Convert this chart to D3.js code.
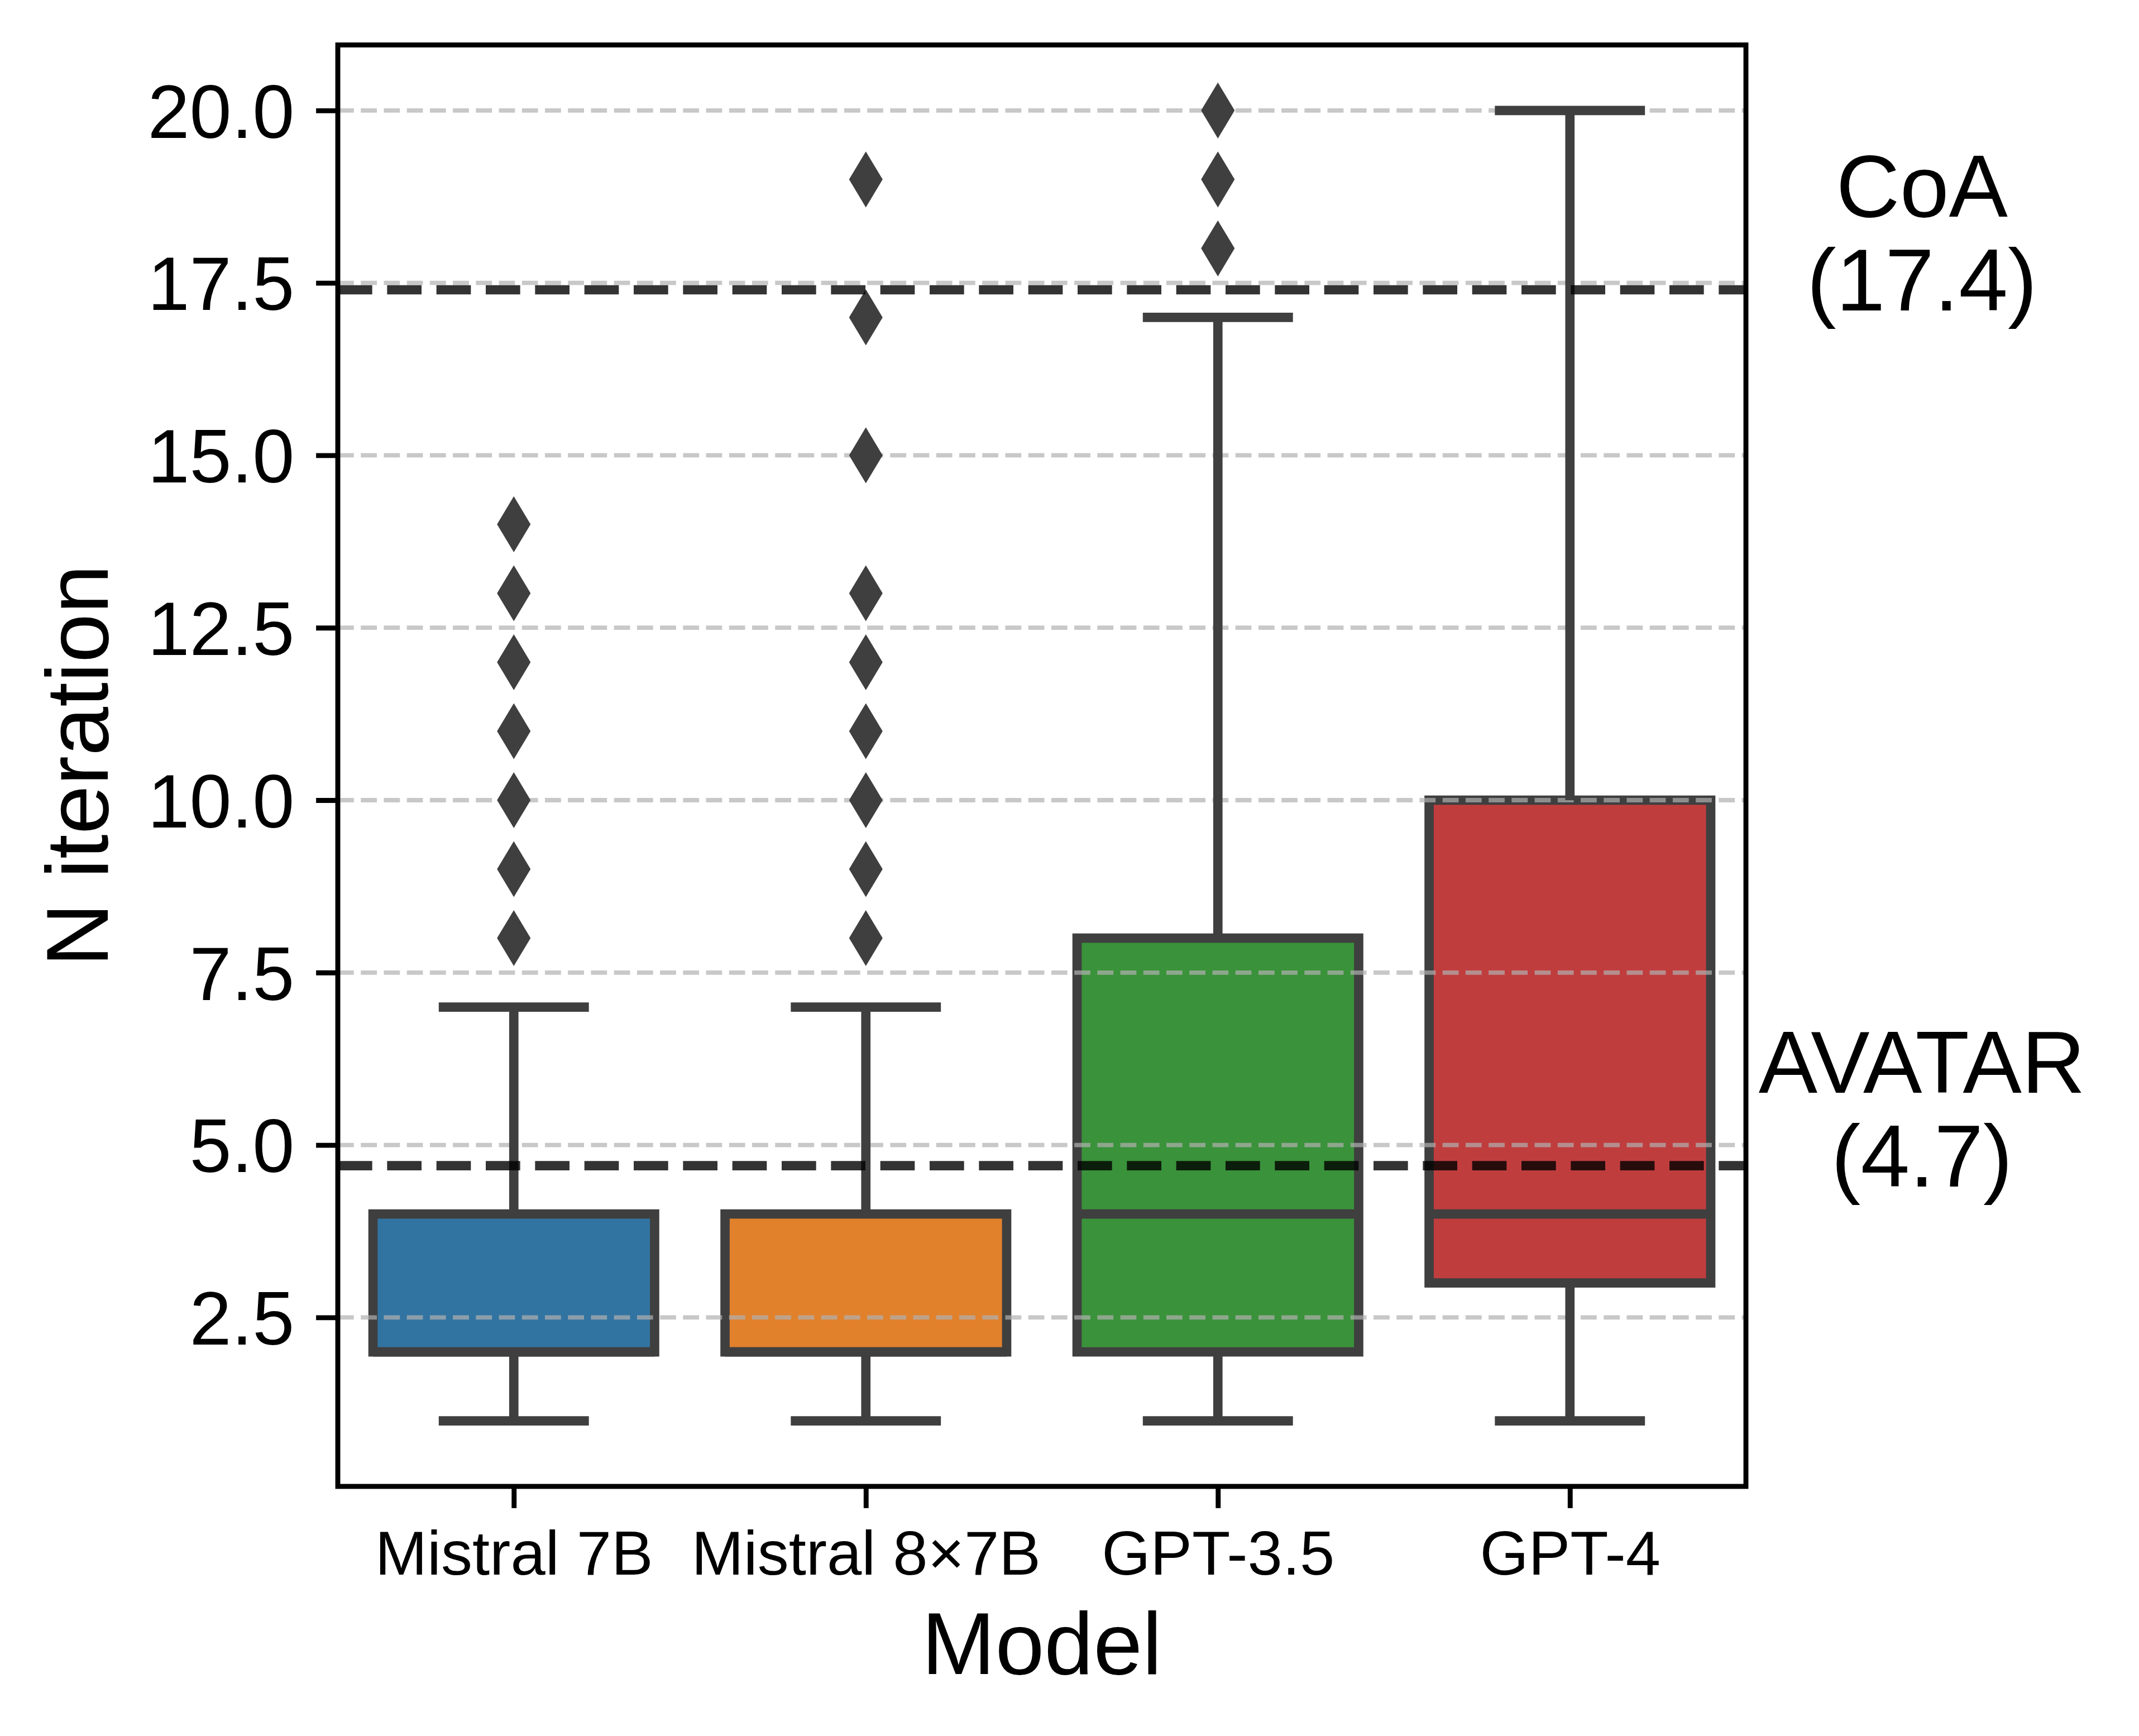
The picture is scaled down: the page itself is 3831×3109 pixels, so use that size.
<!DOCTYPE html>
<html>
<head>
<meta charset="utf-8">
<script src="https://cdn.jsdelivr.net/npm/d3@7"></script>
<style>
  html, body { margin: 0; padding: 0; background: #ffffff; }
  svg { display: block; }
  text { font-family: "Liberation Sans", Arial, sans-serif; fill: #000; }
</style>
</head>
<body>
<script>
// ---------------- data ----------------
const categories   = ["Mistral 7B", "Mistral 8×7B", "GPT-3.5", "GPT-4"];
const boxColors    = ["#3274a1", "#e1812c", "#3a923a", "#c03d3e"];
const whiskerLow   = [1, 1, 1, 1];
const quartile1    = [2, 2, 2, 3];
const medians      = [2, 2, 4, 4];
const quartile3    = [4, 4, 8, 10];
const whiskerHigh  = [7, 7, 17, 20];
const outliers     = [
  [8, 9, 10, 11, 12, 13, 14],
  [8, 9, 10, 11, 12, 13, 15, 17, 19],
  [18, 19, 20],
  []
];
const refNames  = ["CoA", "AVATAR"];
const refValues = [17.4, 4.7];
const yTicks    = [2.5, 5.0, 7.5, 10.0, 12.5, 15.0, 17.5, 20.0];
const xLabel = "Model";
const yLabel = "N iteration";

// ---------------- layout ----------------
const W = 3831, H = 3109;
const PT = 800 / 72;             // px per point
const axL = 605, axR = 3127, axT = 80.5, axB = 2662;
const gray = "#3f3f3f";

const svg = d3.select("body").append("svg")
  .attr("width", W).attr("height", H)
  .attr("viewBox", `0 0 ${W} ${H}`);

const x = d3.scaleLinear().domain([-0.5, 3.5]).range([axL, axR]);
const y = d3.scaleLinear().domain([0.05, 20.95]).range([axB, axT]);

const rows = categories.map((c, i) => ({
  cat: c, i, color: boxColors[i],
  lo: whiskerLow[i], q1: quartile1[i], med: medians[i], q3: quartile3[i], hi: whiskerHigh[i],
  out: outliers[i]
}));

const boxHalf = 0.4, capHalf = 0.2;
const lw = 1.5 * PT;

// boxes (patches, below grid)
const gBoxes = svg.append("g");
gBoxes.selectAll("rect").data(rows).join("rect")
  .attr("x", d => x(d.i - boxHalf))
  .attr("width", d => x(d.i + boxHalf) - x(d.i - boxHalf))
  .attr("y", d => y(d.q3))
  .attr("height", d => y(d.q1) - y(d.q3))
  .attr("fill", d => d.color)
  .attr("stroke", gray)
  .attr("stroke-width", lw)
  .attr("stroke-linejoin", "miter");

// grid (above patches)
const gridLw = 0.7 * PT;
svg.append("g").selectAll("line").data(yTicks).join("line")
  .attr("x1", axL).attr("x2", axR)
  .attr("y1", d => y(d)).attr("y2", d => y(d))
  .attr("stroke", "#b0b0b0")
  .attr("stroke-opacity", 0.7)
  .attr("stroke-width", gridLw)
  .attr("stroke-dasharray", `${3.7 * 0.7 * PT} ${1.6 * 0.7 * PT}`);

// whiskers, caps, medians
const gLines = svg.append("g");
rows.forEach(d => {
  const g = gLines.append("g");
  g.append("line").attr("x1", x(d.i)).attr("x2", x(d.i))
    .attr("y1", y(d.q1)).attr("y2", y(d.lo)).attr("stroke-linecap", "butt");
  g.append("line").attr("x1", x(d.i)).attr("x2", x(d.i))
    .attr("y1", y(d.q3)).attr("y2", y(d.hi)).attr("stroke-linecap", "butt");
  g.append("line").attr("x1", x(d.i - capHalf)).attr("x2", x(d.i + capHalf))
    .attr("y1", y(d.lo)).attr("y2", y(d.lo)).attr("stroke-linecap", "square");
  g.append("line").attr("x1", x(d.i - capHalf)).attr("x2", x(d.i + capHalf))
    .attr("y1", y(d.hi)).attr("y2", y(d.hi)).attr("stroke-linecap", "square");
  g.append("line").attr("x1", x(d.i - boxHalf)).attr("x2", x(d.i + boxHalf))
    .attr("y1", y(d.med)).attr("y2", y(d.med)).attr("stroke-linecap", "butt");
  g.selectAll("line").attr("stroke", gray).attr("stroke-width", lw);
});

// outliers: thin diamonds
const ms = 5 * PT;
const dh = ms * Math.SQRT2 / 2, dw = 0.6 * dh;
const diamond = (cx, cy) => `M${cx},${cy - dh}L${cx + dw},${cy}L${cx},${cy + dh}L${cx - dw},${cy}Z`;
const flierData = rows.flatMap(d => d.out.map(v => ({ i: d.i, v })));
svg.append("g").selectAll("path").data(flierData).join("path")
  .attr("d", d => diamond(x(d.i), y(d.v)))
  .attr("fill", gray)
  .attr("stroke", gray)
  .attr("stroke-width", 1.0 * PT)
  .attr("stroke-linejoin", "miter");

// reference lines
const refs = refNames.map((n, k) => ({ name: n, value: refValues[k] }));
svg.append("g").selectAll("line").data(refs).join("line")
  .attr("x1", axL).attr("x2", axR)
  .attr("y1", d => y(d.value)).attr("y2", d => y(d.value))
  .attr("stroke", "#000")
  .attr("stroke-opacity", 0.8)
  .attr("stroke-width", lw)
  .attr("stroke-dasharray", `${3.7 * 1.5 * PT} ${1.6 * 1.5 * PT}`);

// reference labels
const refText = svg.append("g").selectAll("text").data(refs).join("text")
  .attr("text-anchor", "middle")
  .attr("font-size", 158);
refText.append("tspan")
  .attr("x", x(4.0)).attr("y", d => y(d.value) - 131)
  .text(d => d.name);
refText.append("tspan")
  .attr("x", x(4.0)).attr("y", d => y(d.value) + 37)
  .text(d => `(${d.value})`);

// spines
svg.append("rect")
  .attr("x", axL).attr("y", axT)
  .attr("width", axR - axL).attr("height", axB - axT)
  .attr("fill", "none").attr("stroke", "#000").attr("stroke-width", 0.8 * PT);

// axes
const tickLen = 3.5 * PT;
const yAxis = d3.axisLeft(y).tickValues(yTicks).tickFormat(d3.format(".1f"))
  .tickSize(tickLen).tickPadding(3.5 * PT);
const gy = svg.append("g").attr("transform", `translate(${axL},0)`).call(yAxis);
gy.select(".domain").remove();
gy.selectAll(".tick line").attr("stroke", "#000").attr("stroke-width", 0.8 * PT);
gy.selectAll(".tick text").attr("font-size", 135).attr("dy", "0.358em")
  .attr("font-family", "'Liberation Sans', Arial, sans-serif").attr("fill", "#000");

const xAxis = d3.axisBottom(x).tickValues(d3.range(categories.length))
  .tickFormat(i => categories[i]).tickSize(tickLen).tickPadding(3.5 * PT);
const gx = svg.append("g").attr("transform", `translate(0,${axB})`).call(xAxis);
gx.select(".domain").remove();
gx.selectAll(".tick line").attr("stroke", "#000").attr("stroke-width", 0.8 * PT);
gx.selectAll(".tick text").attr("font-size", 112).attr("y", 158).attr("dy", "0")
  .attr("font-family", "'Liberation Sans', Arial, sans-serif").attr("fill", "#000");

// axis labels
svg.append("text")
  .attr("x", (axL + axR) / 2).attr("y", 2998)
  .attr("text-anchor", "middle").attr("font-size", 158)
  .text(xLabel);
svg.append("text")
  .attr("transform", `translate(193,${(axT + axB) / 2}) rotate(-90)`)
  .attr("text-anchor", "middle").attr("font-size", 158)
  .text(yLabel);
</script>
</body>
</html>
